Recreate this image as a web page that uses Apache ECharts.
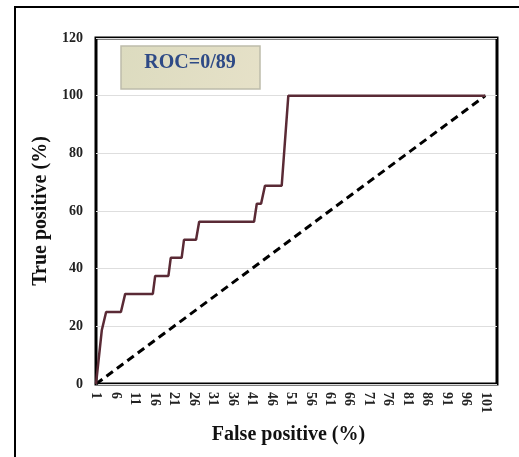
<!DOCTYPE html>
<html>
<head>
<meta charset="utf-8">
<script src="https://cdn.jsdelivr.net/npm/echarts@6/dist/echarts.min.js"></script>
<style>html,body{margin:0;padding:0;background:#fff;}#c{width:519px;height:457px;}</style>
</head>
<body>
<div id="c"></div>
<script>
// ROC curve (false positive %, true positive %)
var rocX = [1, 2.5, 3.6, 7.4, 8.5, 15.6, 16.2, 19.6, 20.2, 23, 23.6, 26.7, 27.5, 41.6, 42.3, 43.4, 44.4, 48.7, 50.4, 101];
var rocY = [0, 18.75, 25, 25, 31.25, 31.25, 37.5, 37.5, 43.75, 43.75, 50, 50, 56.25, 56.25, 62.5, 62.5, 68.75, 68.75, 100, 100];
// reference (chance) diagonal
var diagX = [1, 101];
var diagY = [0, 100];
// x tick labels
var xTicks = [1, 6, 11, 16, 21, 26, 31, 36, 41, 46, 51, 56, 61, 66, 71, 76, 81, 86, 91, 96, 101];
var annotation = 'ROC=0/89';

function pairs(xs, ys) { return xs.map(function (x, i) { return [x, ys[i]]; }); }

var serif = '"Liberation Serif", "DejaVu Serif", serif';
var chart = echarts.init(document.getElementById('c'));
chart.setOption({
  animation: false,
  backgroundColor: '#ffffff',
  grid: { left: 96, right: 22, top: 38, bottom: 73, show: true, borderColor: '#000', borderWidth: 3, backgroundColor: 'transparent' },
  xAxis: {
    type: 'value', min: 1, max: 104,
    name: 'False positive (%)', nameLocation: 'middle', nameGap: 41,
    nameTextStyle: { fontFamily: serif, fontWeight: 'bold', fontSize: 20, color: '#111', padding: [0, 16, 0, 0] },
    axisLine: { show: false }, axisTick: { show: false }, splitLine: { show: false },
    axisLabel: { customValues: xTicks, rotate: -90, margin: 8, fontFamily: serif, fontWeight: 'bold', fontSize: 14, color: '#222' }
  },
  yAxis: {
    type: 'value', min: 0, max: 120, interval: 20,
    name: 'True positive (%)', nameLocation: 'middle', nameGap: 44,
    nameTextStyle: { fontFamily: serif, fontWeight: 'bold', fontSize: 20, color: '#111' },
    axisLine: { show: false }, axisTick: { show: false },
    splitLine: { lineStyle: { color: '#dedede', width: 1 } },
    axisLabel: { margin: 13, fontFamily: serif, fontWeight: 'bold', fontSize: 14, color: '#222' }
  },
  series: [
    { type: 'line', data: pairs(diagX, diagY), symbol: 'none', lineStyle: { color: '#000', width: 3, type: [8, 5] }, z: 2 },
    { type: 'line', data: pairs(rocX, rocY), symbol: 'none', lineStyle: { color: '#5a2a35', width: 2.5 }, z: 3 }
  ],
  graphic: [
    { type: 'rect', shape: { x: 15, y: 7, width: 520, height: 470 }, style: { fill: 'none', stroke: '#000', lineWidth: 2 }, z: 100 },
    { type: 'rect', shape: { x: 121, y: 46, width: 139, height: 43 },
      style: { fill: new echarts.graphic.LinearGradient(0, 0, 1, 1, [{ offset: 0, color: '#dcdbbf' }, { offset: 1, color: '#e6e1c8' }]), stroke: '#bdbcaa', lineWidth: 1.5 }, z: 50 },
    { type: 'text', x: 190, y: 63, style: { text: annotation, fill: '#2e4a86', font: 'bold 20px ' + serif, align: 'center', verticalAlign: 'middle' }, z: 51 }
  ]
});
</script>
</body>
</html>
